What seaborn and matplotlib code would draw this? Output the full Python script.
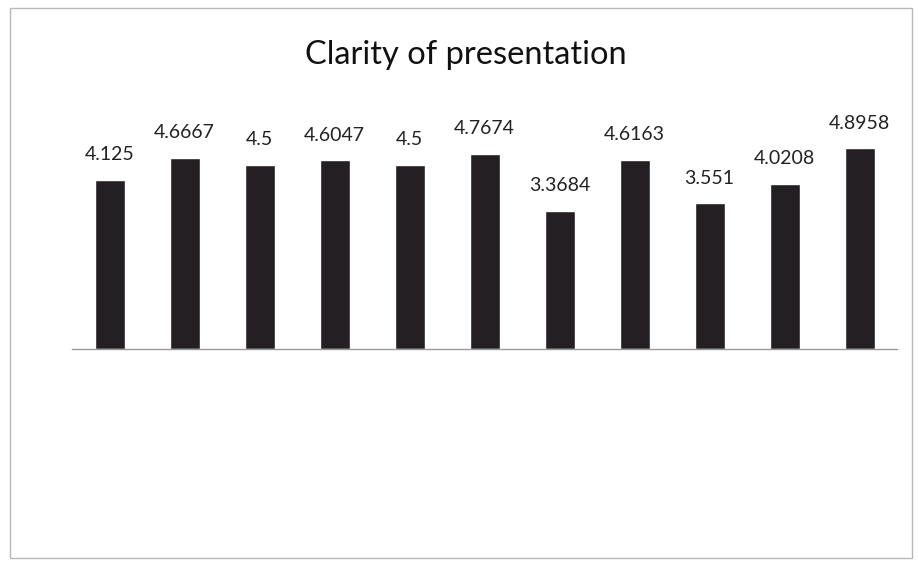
import matplotlib
matplotlib.use("Agg")
import matplotlib.pyplot as plt
import seaborn as sns
import pandas as pd
from matplotlib.patches import Rectangle

# Mean scores for each session
categories = ["1", "2", "3", "4", "5", "6", "7", "8", "9", "10", "11"]
scores = [4.125, 4.6667, 4.5, 4.6047, 4.5, 4.7674, 3.3684, 4.6163, 3.551, 4.0208, 4.8958]
score_labels = ["4.125", "4.6667", "4.5", "4.6047", "4.5", "4.7674", "3.3684", "4.6163", "3.551", "4.0208", "4.8958"]
title = "Clarity of presentation"

sns.set_theme(style="white")
plt.rcParams["font.family"] = ["Lato", "DejaVu Sans"]

df = pd.DataFrame({"category": categories, "score": scores})

fig = plt.figure(figsize=(9.18, 5.62), dpi=100)
fig.patch.set_facecolor("white")

# chart area border
fig.patches.append(Rectangle((10 / 918, 4 / 562), 902 / 918, 550 / 562,
                             transform=fig.transFigure, fill=False,
                             edgecolor="#b8b8b8", linewidth=1.0))

ax = fig.add_axes([72 / 918, (562 - 349) / 562, 825 / 918, (349 - 103) / 562])
sns.barplot(data=df, x="category", y="score", color="#231f22",
            saturation=1, width=0.4, ax=ax)

ax.set_ylim(0, 6)
ax.set_xlim(-0.5, len(categories) - 0.5)
for side in ["left", "right", "top"]:
    ax.spines[side].set_visible(False)
ax.spines["bottom"].set_color("#9a9a9a")
ax.spines["bottom"].set_linewidth(1.0)
ax.set_xticks([])
ax.set_yticks([])
ax.set_xlabel("")
ax.set_ylabel("")

for i, (v, lab) in enumerate(zip(scores, score_labels)):
    ax.annotate(lab, (i, v), xytext=(0, 12), textcoords="offset points",
                ha="center", va="bottom", fontsize=14, color="#222222")

fig.text(466 / 918, 1 - 55 / 562, title, ha="center", va="center",
         fontsize=23.5, color="#111111")

fig.savefig("out.png", dpi=100)
